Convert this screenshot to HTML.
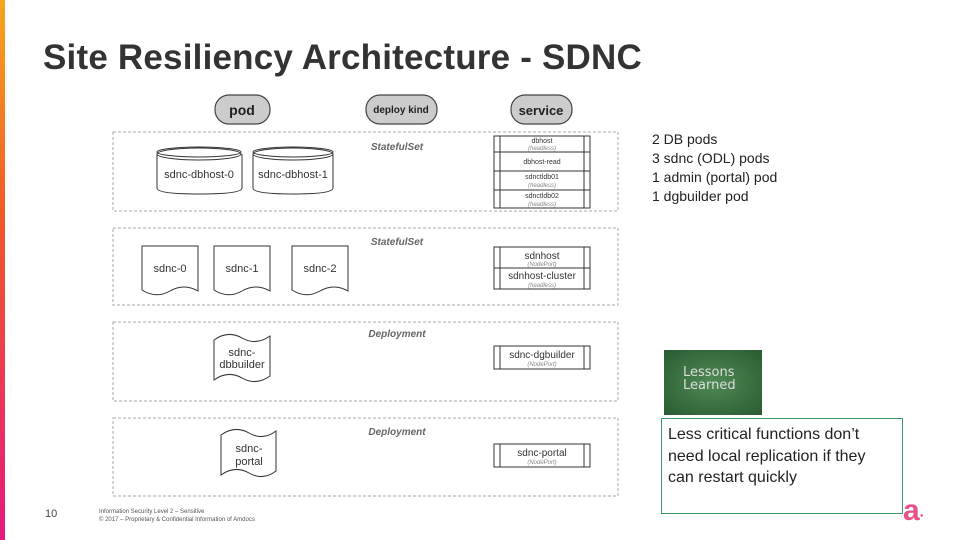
<!DOCTYPE html>
<html><head><meta charset="utf-8"><style>
body{margin:0;width:960px;height:540px;overflow:hidden;background:#fff;font-family:"Liberation Sans",sans-serif;position:relative}
.t{position:absolute;white-space:nowrap}
</style></head><body>
<div style="position:absolute;left:0;top:0;width:5px;height:540px;background:linear-gradient(#f7a51c,#f05a28 40%,#e6197f)"></div>
<div class="t" style="left:43px;top:38px;font-size:35px;font-weight:bold;color:#333;letter-spacing:0.2px">Site Resiliency Architecture - SDNC</div>
<svg width="960" height="540" style="position:absolute;left:0;top:0" font-family="Liberation Sans, sans-serif">
<g stroke="#444" stroke-width="1.2" fill="#ccc">
<rect x="215" y="95" width="55" height="29" rx="14"/>
<rect x="366" y="95" width="71" height="29" rx="14"/>
<rect x="511" y="95" width="61" height="29" rx="14"/>
</g>
<g font-weight="bold" fill="#222" text-anchor="middle">
<text x="242" y="115" font-size="14">pod</text>
<text x="401" y="113" font-size="10">deploy kind</text>
<text x="541" y="115" font-size="13">service</text>
</g>
<g stroke="#aaa" stroke-dasharray="3,2" fill="none">
<rect x="113" y="132" width="505" height="79"/>
<rect x="113" y="228" width="505" height="77"/>
<rect x="113" y="322" width="505" height="79"/>
<rect x="113" y="418" width="505" height="78"/>
</g>
<g font-style="italic" font-weight="bold" fill="#666" font-size="10" text-anchor="middle">
<text x="397" y="150">StatefulSet</text>
<text x="397" y="245">StatefulSet</text>
<text x="397" y="337">Deployment</text>
<text x="397" y="435">Deployment</text>
</g>
<g stroke="#333" fill="#fff">
<path d="M157 154 V188 Q157 194 199 194 Q242 194 242 188 V154"/>
<ellipse cx="199" cy="154" rx="42" ry="6"/><ellipse cx="199" cy="152" rx="42" ry="5" fill="none"/>
<path d="M253 154 V188 Q253 194 293 194 Q333 194 333 188 V154"/>
<ellipse cx="293" cy="154" rx="40" ry="6"/><ellipse cx="293" cy="152" rx="40" ry="5" fill="none"/>
<path d="M142 246 H198 V291 Q184 283 170 291 Q156 299 142 290 Z"/>
<path d="M214 246 H270 V291 Q256 283 242 291 Q228 299 214 290 Z"/>
<path d="M292 246 H348 V291 Q334 283 320 291 Q306 299 292 290 Z"/>
<path d="M214 340 Q228 330 242 338 Q256 346 270 336 V376 Q256 386 242 378 Q228 370 214 380 Z"/>
<path d="M221 435 Q235 425 249 433 Q263 441 276 431 V471 Q263 481 249 473 Q235 465 221 475 Z"/>
</g>
<g font-size="11" fill="#333" text-anchor="middle">
<text x="199" y="178">sdnc-dbhost-0</text>
<text x="293" y="178">sdnc-dbhost-1</text>
<text x="170" y="272">sdnc-0</text>
<text x="242" y="272">sdnc-1</text>
<text x="320" y="272">sdnc-2</text>
<text x="242" y="356">sdnc-</text><text x="242" y="368">dbbuilder</text>
<text x="249" y="452">sdnc-</text><text x="249" y="465">portal</text>
</g>
<g stroke="#333" fill="#fff">
<rect x="494" y="136" width="96" height="72"/>
<line x1="494" y1="152" x2="590" y2="152"/><line x1="494" y1="171" x2="590" y2="171"/><line x1="494" y1="190" x2="590" y2="190"/>
<rect x="494" y="247" width="96" height="42"/><line x1="494" y1="268" x2="590" y2="268"/>
<rect x="494" y="346" width="96" height="23"/>
<rect x="494" y="444" width="96" height="23"/>
</g>
<g stroke="#333" stroke-width="1">
<line x1="500" y1="136" x2="500" y2="208"/><line x1="584" y1="136" x2="584" y2="208"/>
<line x1="500" y1="247" x2="500" y2="289"/><line x1="584" y1="247" x2="584" y2="289"/>
<line x1="500" y1="346" x2="500" y2="369"/><line x1="584" y1="346" x2="584" y2="369"/>
<line x1="500" y1="444" x2="500" y2="467"/><line x1="584" y1="444" x2="584" y2="467"/>
</g>
<g fill="#333" text-anchor="middle">
<text x="542" y="143" font-size="7">dbhost</text><text x="542" y="150" font-size="6" fill="#888" font-style="italic">(headless)</text>
<text x="542" y="164" font-size="7">dbhost-read</text>
<text x="542" y="179" font-size="7">sdnctldb01</text><text x="542" y="187" font-size="6" fill="#888" font-style="italic">(headless)</text>
<text x="542" y="198" font-size="7">sdnctldb02</text><text x="542" y="206" font-size="6" fill="#888" font-style="italic">(headless)</text>
<text x="542" y="259" font-size="10">sdnhost</text><text x="542" y="266" font-size="6" fill="#888" font-style="italic">(NodePort)</text>
<text x="542" y="279" font-size="10">sdnhost-cluster</text><text x="542" y="287" font-size="6" fill="#888" font-style="italic">(headless)</text>
<text x="542" y="358" font-size="10">sdnc-dgbuilder</text><text x="542" y="366" font-size="6" fill="#888" font-style="italic">(NodePort)</text>
<text x="542" y="456" font-size="10">sdnc-portal</text><text x="542" y="464" font-size="6" fill="#888" font-style="italic">(NodePort)</text>
</g>
</svg>
<div class="t" style="left:652px;top:130px;font-size:14px;line-height:19px;color:#222">2 DB pods<br>3 sdnc (ODL) pods<br>1 admin (portal) pod<br>1 dgbuilder pod</div>
<div style="position:absolute;left:664px;top:350px;width:98px;height:65px;background:radial-gradient(#4f8a55,#2a5a32)"></div>
<div class="t" style="left:683px;top:366px;font-size:13px;line-height:13px;color:#ddd;font-family:'DejaVu Sans',sans-serif">Lessons<br>Learned</div>
<div style="position:absolute;left:661px;top:418px;width:240px;height:94px;border:1px solid #3a9a6a"></div>
<div class="t" style="left:668px;top:424px;font-size:16px;line-height:21.5px;color:#222">Less critical functions don’t<br>need local replication if they<br>can restart quickly</div>
<div class="t" style="left:45px;top:508px;font-size:11px;color:#444">10</div>
<div class="t" style="left:99px;top:508px;font-size:6px;line-height:8px;color:#555">Information Security Level 2 – Sensitive<br>© 2017 – Proprietary &amp; Confidential Information of Amdocs</div>
<div class="t" style="left:903px;top:496px;font-size:30px;font-weight:bold;color:#e8508a;line-height:30px">a<span style="font-size:14px;color:#e6197f">·</span></div>
</body></html>
